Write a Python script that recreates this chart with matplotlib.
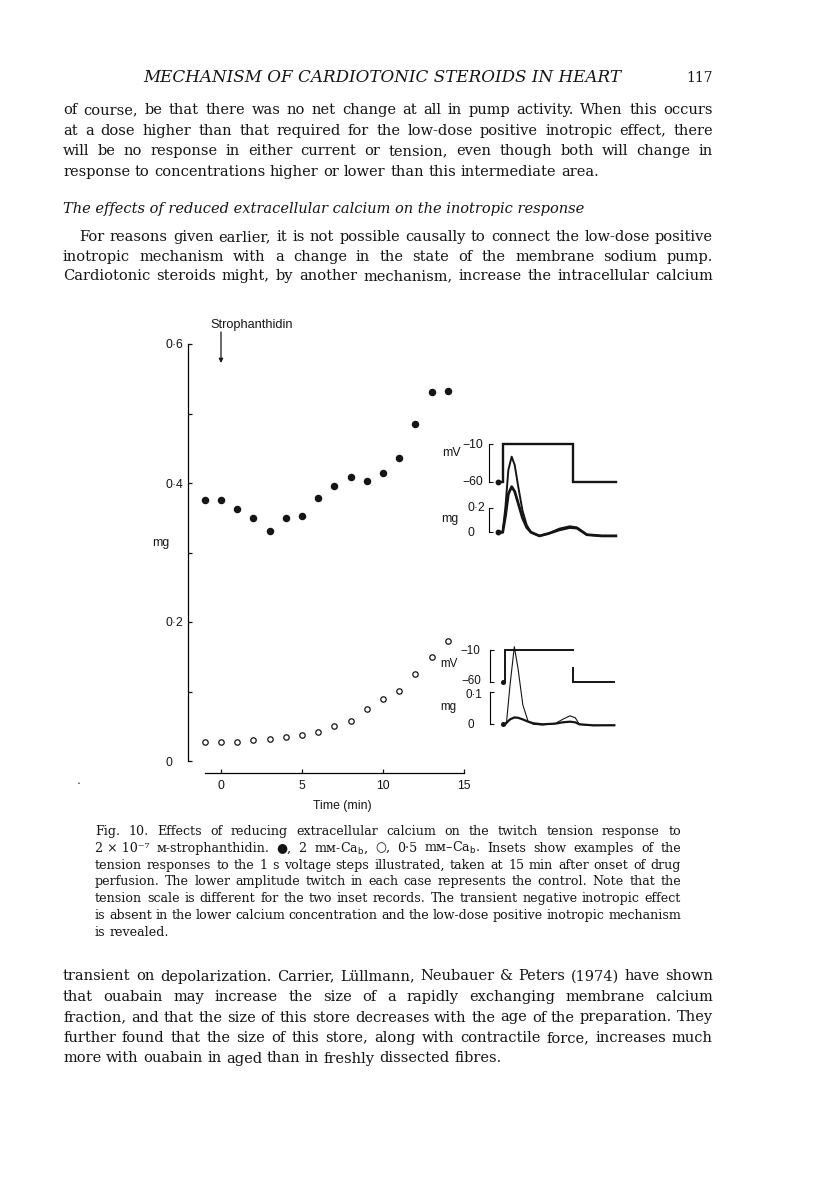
import numpy as np
import matplotlib
matplotlib.use('Agg')
import matplotlib.pyplot as plt

W, H, DPI = 816, 1183, 100

# ---------------- data ----------------
time_min = [-1, 0, 1, 2, 3, 4, 5, 6, 7, 8, 9, 10, 11, 12, 13, 14]
tension_2mM_Ca = [0.375, 0.375, 0.362, 0.350, 0.331, 0.349, 0.353, 0.378,
                  0.396, 0.409, 0.403, 0.414, 0.436, 0.485, 0.531, 0.533]
tension_05mM_Ca = [0.027, 0.027, 0.027, 0.030, 0.032, 0.034, 0.038, 0.042,
                   0.050, 0.057, 0.075, 0.089, 0.101, 0.125, 0.150, 0.173]
y_tick_values = [0.0, 0.1, 0.2, 0.3, 0.4, 0.5, 0.6]
y_tick_labels = ['0', '', '0·2', '', '0·4', '', '0·6']
x_tick_values = [0, 5, 10, 15]
x_tick_labels = ['0', '5', '10', '15']
drug_onset_min = 0

# inset A : 2 mM-Ca (time in s, voltage in mV, tension in mg)
insetA_step_t = [-0.07, 0.0, 0.0, 1.0, 1.0, 1.6]
insetA_step_mV = [-60, -60, -10, -10, -60, -60]
insetA_t = [-0.07, 0.00, 0.04, 0.08, 0.127, 0.17, 0.22, 0.28, 0.34, 0.40,
            0.52, 0.65, 0.80, 0.95, 1.05, 1.19, 1.40, 1.60]
insetA_drug_mg = [0.0, 0.0, 0.22, 0.52, 0.63, 0.56, 0.38, 0.18, 0.06, 0.0,
                  -0.03, -0.01, 0.03, 0.05, 0.04, -0.02, -0.03, -0.03]
insetA_ctrl_mg = [0.0, 0.0, 0.14, 0.32, 0.38, 0.34, 0.24, 0.12, 0.04, 0.0,
                  -0.03, -0.01, 0.02, 0.04, 0.035, -0.02, -0.03, -0.03]
insetA_mV_ticks = [-60, -10]
insetA_mV_labels = ['−60', '−10']
insetA_mg_ticks = [0, 0.2]
insetA_mg_labels = ['0', '0·2']

# inset B : 0.5 mM-Ca
insetB_step_t = [-0.03, 0.0, 0.0, 1.0, np.nan, 1.0, 1.0, 1.62]
insetB_step_mV = [-60, -60, -10, -10, np.nan, -38, -60, -60]
insetB_t = [-0.03, 0.00, 0.02, 0.07, 0.134, 0.19, 0.26, 0.34, 0.42, 0.55,
            0.74, 0.85, 0.96, 1.04, 1.10, 1.30, 1.62]
insetB_drug_mg = [0.0, 0.0, 0.01, 0.12, 0.238, 0.17, 0.06, 0.008, 0.0, -0.002,
                  0.002, 0.015, 0.026, 0.02, 0.0, -0.004, -0.003]
insetB_ctrl_mg = [0.0, 0.0, 0.005, 0.015, 0.021, 0.02, 0.015, 0.008, 0.003, 0.0,
                  0.002, 0.006, 0.008, 0.006, 0.0, -0.003, -0.003]
insetB_mV_ticks = [-60, -10]
insetB_mV_labels = ['−60', '−10']
insetB_mg_ticks = [0, 0.1]
insetB_mg_labels = ['0', '0·1']

# ---------------- page text ----------------
header_text = "MECHANISM OF CARDIOTONIC STEROIDS IN HEART"
page_number = "117"
para1_lines = [
    "of course, be that there was no net change at all in pump activity. When this occurs",
    "at a dose higher than that required for the low-dose positive inotropic effect, there",
    "will be no response in either current or tension, even though both will change in",
    "response to concentrations higher or lower than this intermediate area.",
]
heading_text = "The effects of reduced extracellular calcium on the inotropic response"
para2_lines = [
    "For reasons given earlier, it is not possible causally to connect the low-dose positive",
    "inotropic mechanism with a change in the state of the membrane sodium pump.",
    "Cardiotonic steroids might, by another mechanism, increase the intracellular calcium",
]
caption_lines = [
    "Fig. 10. Effects of reducing extracellular calcium on the twitch tension response to",
    "2\u00a0×\u00a010⁻⁷ ᴍ-strophanthidin. ●, 2 mᴍ-Ca$_\\mathrm{b}$, ○, 0·5 mᴍ–Ca$_\\mathrm{b}$. Insets show examples of the",
    "tension responses to the 1 s voltage steps illustrated, taken at 15 min after onset of drug",
    "perfusion. The lower amplitude twitch in each case represents the control. Note that the",
    "tension scale is different for the two inset records. The transient negative inotropic effect",
    "is absent in the lower calcium concentration and the low-dose positive inotropic mechanism",
    "is revealed.",
]
para3_lines = [
    "transient on depolarization. Carrier, Lüllmann, Neubauer & Peters (1974) have shown",
    "that ouabain may increase the size of a rapidly exchanging membrane calcium",
    "fraction, and that the size of this store decreases with the age of the preparation. They",
    "further found that the size of this store, along with contractile force, increases much",
    "more with ouabain in aged than in freshly dissected fibres.",
]

# ---------------- helpers ----------------
INK = '#151515'
SANS = ['Liberation Sans', 'DejaVu Sans']
SERIF = ['DejaVu Serif', 'DejaVu Sans']
LAB = 8.8

fig = plt.figure(figsize=(W / DPI, H / DPI), dpi=DPI)
fig.patch.set_facecolor('white')
renderer = fig.canvas.get_renderer()


def fx(x):
    return x / W


def fy(y):
    return 1 - y / H


def add_axes_px(x0, x1, y_top, y_bot):
    return fig.add_axes([fx(x0), fy(y_bot), (x1 - x0) / W, (y_bot - y_top) / H])


def measure(s, size, style='normal', family=SERIF):
    t = fig.text(0, 0, s, fontsize=size, family=family, style=style)
    w = t.get_window_extent(renderer).width
    t.remove()
    return w


def fit_size(lines, x0, x1, size, style='normal', indent=0, skip_last=True):
    worst = 0
    n = len(lines) - 1 if skip_last else len(lines)
    for i in range(n):
        target = x1 - x0 - (indent if i == 0 else 0)
        worst = max(worst, measure(lines[i], size, style) / target)
    return size / worst if worst > 0 else size


def draw_block(lines, x0, x1, baselines, size, style='normal', indent=0,
               justify_last=False):
    nat_space = measure('a a', size, style) - measure('aa', size, style)
    for i, (line, yb) in enumerate(zip(lines, baselines)):
        words = line.split(' ')
        lx = x0 + (indent if i == 0 else 0)
        widths = [measure(w, size, style) for w in words]
        last = (i == len(lines) - 1) and not justify_last
        if last or len(words) == 1:
            gap = nat_space
        else:
            gap = (x1 - lx - sum(widths)) / (len(words) - 1)
        x = lx
        for w, wd in zip(words, widths):
            fig.text(fx(x), fy(yb), w, fontsize=size, family=SERIF, style=style,
                     ha='left', va='baseline', color=INK)
            x += wd + gap


def label(x, y, s, ha='left', size=LAB):
    fig.text(fx(x), fy(y), s, fontsize=size, family=SANS, ha=ha, va='center',
             color=INK)


# ---------------- page text ----------------
hdr_size = 10.0 * 479 / measure(header_text, 10.0, 'italic')
fig.text(fx(143), fy(82.5), header_text, fontsize=hdr_size, family=SERIF,
         style='italic', ha='left', va='baseline', color=INK)
fig.text(fx(713), fy(82.5), page_number, fontsize=10, family=SERIF,
         ha='right', va='baseline', color=INK)

L, R = 63, 713
body_size = min(fit_size(para1_lines, L, R, 10.0),
                fit_size(para2_lines, L, R, 10.0, indent=16, skip_last=False),
                fit_size(para3_lines, L, R, 10.0))
draw_block(para1_lines, L, R, [114, 134.7, 155.4, 176.1], body_size)
fig.text(fx(L), fy(213.5), heading_text, fontsize=body_size, family=SERIF,
         style='italic', ha='left', va='baseline', color=INK)
draw_block(para2_lines, L, R, [241, 260.7, 280.4], body_size, indent=16,
           justify_last=True)

CL, CR = 95, 681
cap_size = fit_size(caption_lines, CL, CR, 8.5)
draw_block(caption_lines, CL, CR, [835 + 16.83 * i for i in range(7)], cap_size)

draw_block(para3_lines, L, R, [980.5 + 20.5 * i for i in range(5)], body_size)

fig.text(fx(79), fy(783), '•', fontsize=4, family=SANS, ha='center',
         va='center', color=INK)

# ---------------- main chart ----------------
x0_px, x15_px = 221.0, 464.0
ppm = (x15_px - x0_px) / 15.0
ax = add_axes_px(188, 464, 344, 761)
ax.set_xlim(-(x0_px - 188) / ppm, 15)
ax.set_ylim(0, 0.6)
ax.patch.set_visible(False)
ax.plot(time_min, tension_2mM_Ca, 'o', ms=4.4, color=INK, mec=INK,
        clip_on=False, zorder=3)
ax.plot(time_min, tension_05mM_Ca, 'o', ms=3.9, mfc='white', mec=INK,
        mew=0.9, clip_on=False, zorder=3)
for s in ['top', 'right']:
    ax.spines[s].set_visible(False)
ax.spines['left'].set_bounds(0, 0.6)
ax.spines['left'].set_linewidth(0.9)
ax.spines['bottom'].set_position(('outward', 12 * 72 / DPI))
ax.spines['bottom'].set_bounds(-1, 15)
ax.spines['bottom'].set_linewidth(0.9)
ax.set_yticks(y_tick_values)
ax.set_yticklabels(y_tick_labels)
ax.set_xticks(x_tick_values)
ax.set_xticklabels(x_tick_labels)
ax.tick_params(axis='y', direction='in', length=2.6, width=0.9,
               pad=(188 - 165) * 72 / DPI, labelsize=LAB, colors=INK)
ax.tick_params(axis='x', direction='in', length=2.6, width=0.9, pad=5.0,
               labelsize=LAB, colors=INK)
for lab in ax.get_xticklabels() + ax.get_yticklabels():
    lab.set_family(SANS)
for lab in ax.get_yticklabels():
    lab.set_horizontalalignment('left')

ax.annotate('', xy=(drug_onset_min, (761 - 363) / 695), xytext=(drug_onset_min, (761 - 332) / 695),
            annotation_clip=False,
            arrowprops=dict(arrowstyle='-|>', lw=0.9, color=INK, mutation_scale=6,
                            shrinkA=0, shrinkB=0))
fig.text(fx(210), fy(325), 'Strophanthidin', fontsize=9.2, family=SANS,
         ha='left', va='center', color=INK)
label(161, 543, 'mg', ha='center')
label(x0_px + 7.5 * ppm, 806, 'Time (min)', ha='center')


# ---------------- insets ----------------
def scale_axes(x0, x1, y_top, y_bot, xlim, ylim, ticks, spine_px):
    a = add_axes_px(x0, x1, y_top, y_bot)
    a.set_xlim(*xlim)
    a.set_ylim(*ylim)
    a.patch.set_visible(False)
    for s in ['top', 'right', 'bottom']:
        a.spines[s].set_visible(False)
    a.spines['left'].set_position(('outward', (x0 - spine_px) * 72 / DPI))
    a.spines['left'].set_linewidth(0.8)
    a.set_xticks([])
    a.set_yticks(ticks)
    a.set_yticklabels([''] * len(ticks))
    a.tick_params(axis='y', direction='in', length=2.6, width=0.8, colors=INK)
    return a


# inset A
ax_x0, ax_x1 = 502.7 - 0.07 * 70.7, 502.7 + 1.6 * 70.7
aV = scale_axes(ax_x0, ax_x1, 444, 482.3, (-0.07, 1.6), (-60, -10),
                insetA_mV_ticks, 489)
aV.plot(insetA_step_t, insetA_step_mV, color=INK, lw=1.7, clip_on=False,
        solid_joinstyle='miter')
aV.plot(insetA_step_t[0], insetA_step_mV[0], 'o', ms=3.2, color=INK, clip_on=False)
aT = scale_axes(ax_x0, ax_x1, 508.3, 532.3, (-0.07, 1.6), (0, 0.2),
                insetA_mg_ticks, 489)
aT.plot(insetA_t, insetA_drug_mg, color=INK, lw=1.4, clip_on=False)
aT.plot(insetA_t, insetA_ctrl_mg, color=INK, lw=2.0, clip_on=False)
aT.plot(insetA_t[0], insetA_ctrl_mg[0], 'o', ms=3.2, color=INK, clip_on=False)
label(462, 482, insetA_mV_labels[0])
label(462, 445, insetA_mV_labels[1])
label(467, 533, insetA_mg_labels[0])
label(467, 508, insetA_mg_labels[1])
label(451, 453, 'mV', ha='center')
label(450, 519, 'mg', ha='center')

# inset B
bx_x0, bx_x1 = 505.3 - 0.03 * 67.3, 505.3 + 1.62 * 67.3
bV = scale_axes(bx_x0, bx_x1, 650, 682.3, (-0.03, 1.62), (-60, -10),
                insetB_mV_ticks, 490)
bV.plot(insetB_step_t, insetB_step_mV, color=INK, lw=1.4, clip_on=False,
        solid_joinstyle='miter')
bV.plot(insetB_step_t[0], insetB_step_mV[0], 'o', ms=2.6, color=INK, clip_on=False)
bT = scale_axes(bx_x0, bx_x1, 691.7, 724.3, (-0.03, 1.62), (0, 0.1),
                insetB_mg_ticks, 490)
bT.plot(insetB_t, insetB_drug_mg, color=INK, lw=0.8, clip_on=False)
bT.plot(insetB_t, insetB_ctrl_mg, color=INK, lw=1.6, clip_on=False)
bT.plot(insetB_t[0], insetB_ctrl_mg[0], 'o', ms=2.6, color=INK, clip_on=False)
label(461, 680.5, insetB_mV_labels[0], size=8.4)
label(460, 651, insetB_mV_labels[1], size=8.4)
label(467, 725, insetB_mg_labels[0], size=8.4)
label(466, 695.5, insetB_mg_labels[1], size=8.4)
label(449, 664, 'mV', ha='center', size=8.4)
label(448, 707, 'mg', ha='center', size=8.4)

fig.savefig('out.png', dpi=DPI, facecolor='white')
